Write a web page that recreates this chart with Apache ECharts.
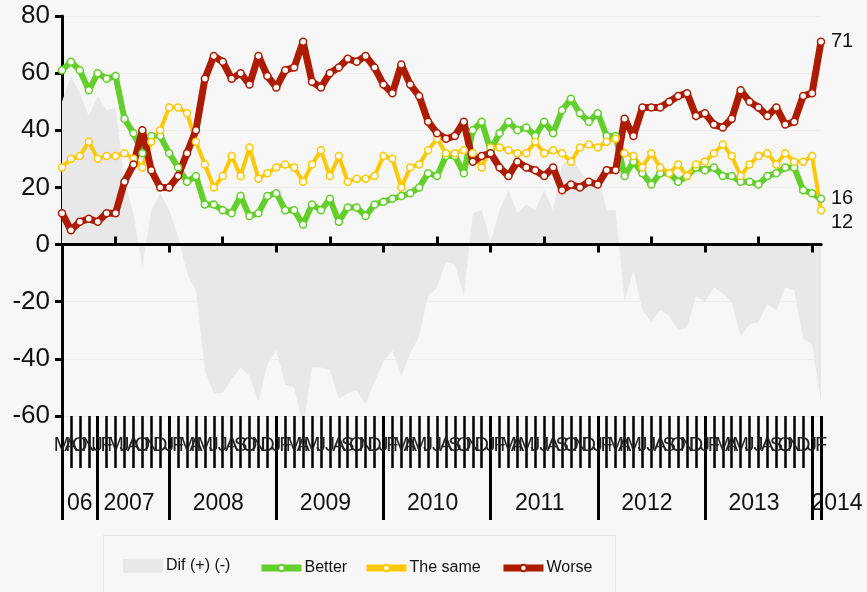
<!DOCTYPE html>
<html>
<head>
<meta charset="utf-8">
<script src="https://cdn.jsdelivr.net/npm/echarts@6/dist/echarts.min.js"></script>
<style>
html, body { margin: 0; padding: 0; background: #f7f7f7; }
#chart { width: 867px; height: 592px; }
</style>
</head>
<body>
<div id="chart"></div>
<script>
// month initials, one per survey (2006 .. Feb 2014)
var months = [
    'M', 'A', 'O', 'N',
    'J', 'F', 'M', 'J', 'A', 'O', 'N', 'D',
    'J', 'F', 'M', 'A', 'M', 'J', 'J', 'A', 'S', 'O', 'N', 'D',
    'J', 'F', 'M', 'A', 'M', 'J', 'J', 'A', 'S', 'O', 'N', 'D',
    'J', 'F', 'M', 'A', 'M', 'J', 'J', 'A', 'S', 'O', 'N', 'D',
    'J', 'F', 'M', 'A', 'M', 'J', 'J', 'A', 'S', 'O', 'N', 'D',
    'J', 'F', 'M', 'A', 'M', 'J', 'J', 'A', 'S', 'O', 'N', 'D',
    'J', 'F', 'M', 'A', 'M', 'J', 'J', 'A', 'S', 'O', 'N', 'D',
    'J', 'F'
];
var yearNames = ['06', '2007', '2008', '2009', '2010', '2011', '2012', '2013', '2014'];
var yearLabelIdx = [2, 7, 17, 29, 41, 53, 65, 77, 84];
var yearStarts = [0, 4, 12, 24, 36, 48, 60, 72, 84, 85];
var janIdx = [12, 24, 36, 48, 60, 72, 84];
var julIdx = [6, 18, 30, 42, 54, 66, 78];

var better = [61, 64, 61, 54, 60, 58, 59, 44, 39, 32, 38, 38,
    32, 27, 22, 24, 14, 14, 12, 11, 17, 10, 11, 17,
    18, 12, 12, 7, 14, 12, 16, 8, 13, 13, 10, 14,
    15, 16, 17, 18, 20, 25, 24, 31, 31, 25, 40, 43,
    33, 39, 43, 40, 41, 38, 43, 39, 47, 51, 46, 43,
    46, 38, 38, 24, 29, 25, 21, 25, 25, 22, 24, 27,
    26, 27, 24, 24, 22, 22, 21, 24, 25, 27, 27, 19,
    18, 16];
var same = [27, 30, 31, 36, 30, 31, 31, 32, 30, 27, 36, 40,
    48, 48, 46, 36, 28, 20, 24, 31, 24, 34, 23, 25,
    27, 28, 27, 22, 28, 33, 24, 31, 22, 23, 23, 24,
    31, 30, 20, 27, 28, 33, 37, 32, 32, 33, 32, 27,
    34, 34, 33, 32, 32, 36, 32, 33, 32, 29, 34, 35,
    34, 36, 37, 32, 31, 27, 32, 27, 25, 28, 24, 28,
    29, 32, 35, 31, 24, 28, 31, 32, 28, 32, 29, 29,
    31, 12];
var worse = [11, 5, 8, 9, 8, 11, 11, 22, 28, 40, 26, 20,
    20, 24, 32, 40, 58, 66, 64, 58, 60, 56, 66, 59,
    55, 61, 62, 71, 57, 55, 60, 62, 65, 64, 66, 62,
    56, 53, 63, 56, 52, 43, 39, 37, 38, 43, 29, 31,
    32, 27, 24, 29, 27, 26, 24, 27, 19, 21, 20, 22,
    21, 26, 26, 44, 38, 48, 48, 48, 50, 52, 53, 45,
    46, 42, 41, 44, 54, 50, 48, 45, 48, 42, 43, 52,
    53, 71];
var dif = [50, 59, 53, 45, 52, 47, 48, 22, 11, -8, 12, 18,
    12, 3, -10, -16, -44, -52, -52, -47, -43, -46, -55, -42,
    -37, -49, -50, -64, -43, -43, -44, -54, -52, -51, -56, -48,
    -41, -37, -46, -38, -32, -18, -15, -6, -7, -18, 11, 12,
    1, 12, 19, 11, 14, 12, 19, 12, 28, 30, 26, 21,
    25, 12, 12, -20, -9, -23, -27, -23, -25, -30, -29, -18,
    -20, -15, -17, -20, -32, -28, -27, -21, -23, -15, -16, -33,
    -35, -55];

var font = 'Liberation Sans, Arial, sans-serif';

function lineSeries(name, data, color, width, labelOffset) {
    return {
        name: name,
        type: 'line',
        data: data,
        symbol: 'circle',
        symbolSize: 7,
        lineStyle: { color: color, width: width },
        itemStyle: { color: '#fff', borderColor: color, borderWidth: 1.5 },
        endLabel: {
            show: true,
            formatter: function (p) { return p.value; },
            distance: 10,
            offset: labelOffset,
            color: '#111',
            fontSize: 20,
            fontFamily: font
        },
        emphasis: { disabled: true }
    };
}

function legendItem(name, left, isArea) {
    return {
        left: left,
        top: isArea ? 558 : 560,
        padding: 0,
        itemWidth: 40,
        itemHeight: isArea ? 14 : 8,
        itemGap: 0,
        lineStyle: { width: 7 },
        textStyle: { fontSize: 16, color: '#111', fontFamily: font, padding: [0, 0, 0, -2] },
        data: [isArea ? { name: name, icon: 'rect' } : name]
    };
}

var myChart = echarts.init(document.getElementById('chart'));
var option = {
    backgroundColor: '#f7f7f7',
    animation: false,
    grid: { left: 62, right: 46, top: 16, bottom: 176, containLabel: false },
    graphic: [{
        type: 'rect',
        shape: { x: 103.5, y: 535.5, width: 512, height: 80 },
        style: { fill: 'none', stroke: '#e4e4e4', lineWidth: 1 },
        silent: true
    }],
    legend: [
        legendItem('Dif (+) (-)', 123, true),
        legendItem('Better', 258),
        legendItem('The same', 363),
        legendItem('Worse', 500)
    ],
    xAxis: [{
        type: 'category',
        data: months,
        boundaryGap: false,
        position: 'bottom',
        axisLine: { show: false, onZero: false },
        axisTick: { interval: 0, length: 52, lineStyle: { color: '#000', width: 2.5 } },
        axisLabel: { interval: 0, margin: 19, fontSize: 20, color: '#222', fontFamily: font },
        splitLine: { show: false }
    }, {
        type: 'category',
        data: months,
        boundaryGap: false,
        position: 'bottom',
        axisLine: { show: false, onZero: false },
        axisTick: {
            interval: function (i) { return yearStarts.indexOf(i) >= 0; },
            length: 104,
            lineStyle: { color: '#000', width: 3 }
        },
        axisLabel: {
            interval: function (i) { return yearLabelIdx.indexOf(i) >= 0; },
            formatter: function (v, i) {
                var k = yearLabelIdx.indexOf(i);
                if (k === 0) return yearNames[k];
                if (k === yearNames.length - 1) return '{e|' + yearNames[k] + '}';
                return '{m|' + yearNames[k] + '}';
            },
            margin: 76,
            fontSize: 23,
            color: '#111',
            fontFamily: font,
            rich: {
                m: { fontSize: 23, fontFamily: font, color: '#111', padding: [0, 0, 0, 9] },
                e: { fontSize: 23, fontFamily: font, color: '#111', padding: [0, 0, 0, 50] }
            }
        },
        splitLine: { show: false }
    }, {
        type: 'category',
        data: months,
        boundaryGap: false,
        position: 'bottom',
        z: 5,
        axisLine: { onZero: true, lineStyle: { color: '#000', width: 3 } },
        axisTick: {
            interval: function (i) { return janIdx.indexOf(i) >= 0; },
            length: 8,
            lineStyle: { color: '#000', width: 3 }
        },
        axisLabel: { show: false },
        splitLine: { show: false }
    }, {
        type: 'category',
        data: months,
        boundaryGap: false,
        position: 'bottom',
        z: 5,
        axisLine: { onZero: true, lineStyle: { color: '#000', width: 3 } },
        axisTick: {
            inside: true,
            interval: function (i) { return julIdx.indexOf(i) >= 0; },
            length: 8,
            lineStyle: { color: '#000', width: 3 }
        },
        axisLabel: { show: false },
        splitLine: { show: false }
    }],
    yAxis: [{
        type: 'value',
        min: -60,
        max: 80,
        interval: 20,
        axisLine: { show: true, onZero: false, lineStyle: { color: '#000', width: 3 } },
        axisTick: { show: true, length: 7, lineStyle: { color: '#000', width: 3 } },
        axisLabel: { fontSize: 26, color: '#111', margin: 12, fontFamily: font },
        splitLine: { lineStyle: { color: '#ededed', width: 1 } }
    }, {
        type: 'value',
        min: -60,
        max: 80,
        show: false
    }],
    series: [{
        name: 'Dif (+) (-)',
        type: 'line',
        data: dif,
        symbol: 'none',
        lineStyle: { width: 0, color: '#e8e8e8' },
        itemStyle: { color: '#e8e8e8' },
        areaStyle: { color: '#e8e8e8', opacity: 1 },
        silent: true,
        z: 1
    },
        lineSeries('Better', better, '#63cf2a', 6, [0, 0]),
        lineSeries('The same', same, '#ffc800', 4, [0, 12]),
        lineSeries('Worse', worse, '#ad1c00', 7, [0, 0])
    ]
};

myChart.setOption(option);
</script>
</body>
</html>
